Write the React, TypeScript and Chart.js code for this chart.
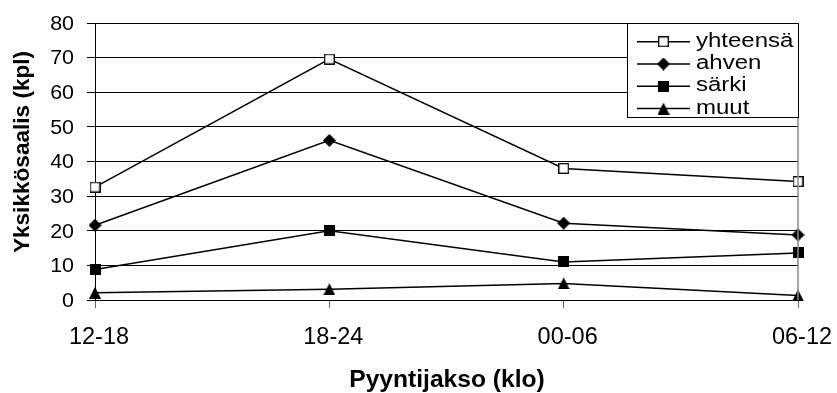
import React, { useEffect, useRef } from 'react';
import { Chart, registerables } from 'chart.js';

Chart.register(...registerables);

const categories = ['12-18', '18-24', '00-06', '06-12'];
const seriesNames = ['yhteensä', 'ahven', 'särki', 'muut'];
const yhteensa = [32.6, 69.6, 38.0, 34.2];
const ahven = [21.6, 46.1, 22.2, 18.8];
const sarki = [8.8, 20.0, 11.0, 13.6];
const muut = [2.1, 3.1, 4.8, 1.3];
const yTickValues = [0, 10, 20, 30, 40, 50, 60, 70, 80];
const xTitle = 'Pyyntijakso (klo)';
const yTitle = 'Yksikkösaalis (kpl)';

const FONT = '"Liberation Sans", Arial, sans-serif';

function makeMarker(kind: string): HTMLCanvasElement {
  const c = document.createElement('canvas');
  const ctx = c.getContext('2d')!;
  if (kind === 'hollow') {
    c.width = 11; c.height = 11;
    ctx.fillStyle = '#fff';
    ctx.fillRect(0, 0, 11, 11);
    ctx.strokeStyle = '#000';
    ctx.lineWidth = 1.3;
    ctx.strokeRect(0.7, 0.7, 9.6, 9.6);
  } else if (kind === 'diamond') {
    c.width = 13; c.height = 13;
    ctx.fillStyle = '#000';
    ctx.beginPath();
    ctx.moveTo(6.5, 0); ctx.lineTo(13, 6.5); ctx.lineTo(6.5, 13); ctx.lineTo(0, 6.5);
    ctx.closePath(); ctx.fill();
  } else if (kind === 'square') {
    c.width = 11; c.height = 11;
    ctx.fillStyle = '#000';
    ctx.fillRect(0, 0, 11, 11);
  } else {
    c.width = 12; c.height = 12;
    ctx.fillStyle = '#000';
    ctx.beginPath();
    ctx.moveTo(6, 0); ctx.lineTo(12, 12); ctx.lineTo(0, 12);
    ctx.closePath(); ctx.fill();
  }
  return c;
}

function drawText(ctx: CanvasRenderingContext2D, text: string, x: number, y: number, font: string, sx: number, align: CanvasTextAlign) {
  ctx.save();
  ctx.translate(x, y);
  ctx.scale(sx, 1);
  ctx.font = font;
  ctx.textAlign = align;
  ctx.textBaseline = 'alphabetic';
  ctx.fillStyle = '#000';
  ctx.fillText(text, 0, 0);
  ctx.restore();
}

export default function App() {
  const ref = useRef<HTMLCanvasElement | null>(null);

  useEffect(() => {
    if (!ref.current) return;
    const markers = [makeMarker('hollow'), makeMarker('diamond'), makeMarker('square'), makeMarker('triangle')];
    const seriesData = [yhteensa, ahven, sarki, muut];

    const decor = {
      id: 'decor',
      afterDraw(chart: any) {
        const ctx: CanvasRenderingContext2D = chart.ctx;
        const ca = chart.chartArea;
        const xs = chart.scales.x;
        const ys = chart.scales.y;
        ctx.save();
        // right plot border
        ctx.strokeStyle = '#8a8a8a';
        ctx.lineWidth = 1.5;
        ctx.beginPath();
        ctx.moveTo(ca.right, ca.top);
        ctx.lineTo(ca.right, ca.bottom);
        ctx.stroke();

        // y tick labels
        yTickValues.forEach((v) => {
          drawText(ctx, String(v), ca.left - 21, ys.getPixelForValue(v) + 6.8, `19.5px ${FONT}`, 1.1, 'right');
        });
        // x tick labels
        categories.forEach((c, i) => {
          drawText(ctx, c, xs.getPixelForValue(i) + 4, ca.bottom + 44, `23.5px ${FONT}`, 1.0, 'center');
        });
        // x title
        drawText(ctx, xTitle, (ca.left + ca.right) / 2 + 0.5, 387, `bold 23px ${FONT}`, 1.07, 'center');
        // y title
        ctx.save();
        ctx.translate(29, 152);
        ctx.rotate(-Math.PI / 2);
        ctx.font = `bold 22.6px ${FONT}`;
        ctx.textAlign = 'center';
        ctx.textBaseline = 'alphabetic';
        ctx.fillStyle = '#000';
        ctx.fillText(yTitle, 0, 0);
        ctx.restore();

        // legend
        const lx = Math.round(ca.right) - 171;
        const ly = Math.round(ca.top);
        ctx.fillStyle = '#fff';
        ctx.fillRect(lx, ly, 171, 95);
        ctx.strokeStyle = '#000';
        ctx.lineWidth = 1;
        ctx.strokeRect(lx + 0.5, ly + 0.5, 171, 94);
        seriesNames.forEach((name, i) => {
          const cy = ly + 18.7 + i * 22.3;
          ctx.strokeStyle = '#000';
          ctx.lineWidth = 1.5;
          ctx.beginPath();
          ctx.moveTo(lx + 10, cy);
          ctx.lineTo(lx + 63, cy);
          ctx.stroke();
          const m = markers[i];
          ctx.drawImage(m, lx + 36.5 - m.width / 2, cy - m.height / 2);
          drawText(ctx, name, lx + 69, cy + 5, `20px ${FONT}`, 1.2, 'left');
        });
        ctx.restore();
      },
    };

    const chart = new Chart(ref.current, {
      type: 'line',
      data: {
        labels: categories,
        datasets: seriesNames.map((name, i) => ({
          label: name,
          data: seriesData[i],
          borderColor: '#000',
          borderWidth: 1.5,
          backgroundColor: '#000',
          pointStyle: markers[i] as any,
          pointRadius: 6,
          pointHoverRadius: 6,
          tension: 0,
          fill: false,
          clip: false as any,
        })),
      },
      options: {
        animation: false,
        responsive: true,
        maintainAspectRatio: false,
        events: [],
        layout: { padding: { left: 87, right: 39, top: 23, bottom: 85 } },
        plugins: {
          legend: { display: false },
          tooltip: { enabled: false },
          title: { display: false },
        },
        scales: {
          x: {
            type: 'category',
            offset: false,
            grid: { display: true, drawOnChartArea: false, drawTicks: true, tickLength: 8, color: '#666', lineWidth: 1 },
            border: { display: true, color: '#000', width: 1 },
            ticks: { display: false },
          },
          y: {
            min: 0,
            max: 80,
            ticks: { display: false, stepSize: 10 },
            grid: { color: '#000', lineWidth: 1, drawTicks: true, tickLength: 8 },
            border: { display: true, color: '#000', width: 1 },
          },
        },
      },
      plugins: [decor],
    });
    return () => chart.destroy();
  }, []);

  return (
    <div style={{ position: 'fixed', left: 0, top: 0, width: 837, height: 393, background: '#fff' }}>
      <canvas ref={ref} />
    </div>
  );
}
